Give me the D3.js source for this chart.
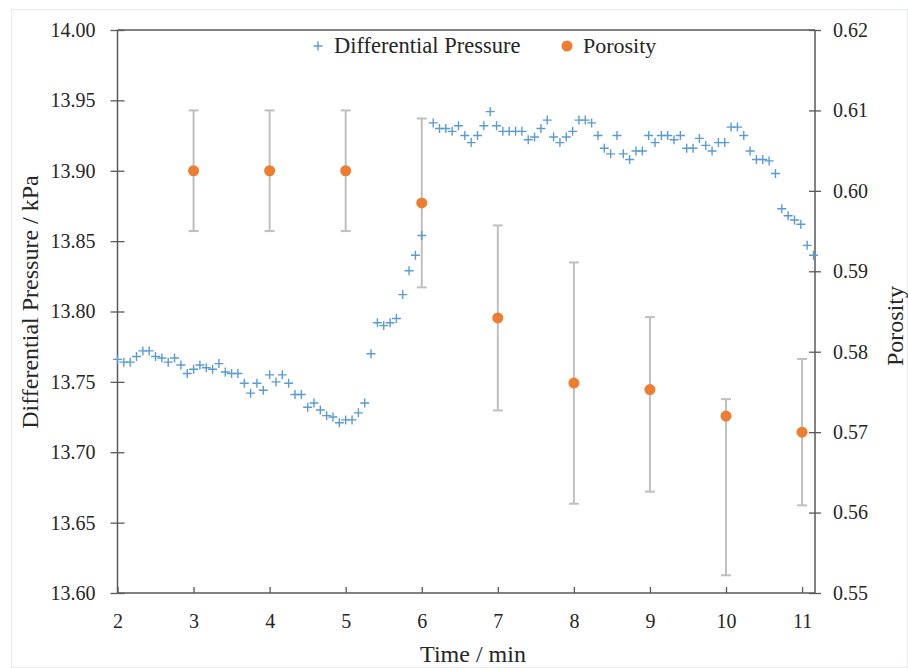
<!doctype html>
<html>
  <head>
    <meta charset="utf-8"/>
    <style>
      body { margin: 0; background: #fff; }
      text { font-family: 'Liberation Serif', 'DejaVu Serif', serif; fill: #262626; }
    </style>
  </head>
  <body>
    <script src="https://cdn.jsdelivr.net/npm/d3@7/dist/d3.min.js"></script>
    <script>

      // differential pressure, sampled every 5 s (time in seconds)
      const pressureTime = [
        120, 125, 130, 135, 140, 145, 150, 155, 160, 165,
        170, 175, 180, 185, 190, 195, 200, 205, 210, 215,
        220, 225, 230, 235, 240, 245, 250, 255, 260, 265,
        270, 275, 280, 285, 290, 295, 300, 305, 310, 315,
        320, 325, 330, 335, 340, 345, 350, 355, 360,
        369, 374, 379, 384, 389, 394, 399, 404, 409, 414,
        419, 424, 429, 434, 439, 444, 449, 454, 459, 464,
        469, 474, 479, 484, 489, 494, 499, 504, 509, 514,
        519, 524, 529, 534, 539, 544, 549, 554, 559, 564,
        569, 574, 579, 584, 589, 594, 599, 604, 609, 614,
        619, 624, 629, 634, 639, 644, 649, 654, 659, 664,
        669
      ];
      const pressure = [
        13.766, 13.764, 13.764, 13.768, 13.772, 13.772, 13.768, 13.767, 13.764, 13.767,
        13.762, 13.756, 13.759, 13.762, 13.760, 13.759, 13.763, 13.757, 13.756, 13.756,
        13.749, 13.742, 13.749, 13.744, 13.755, 13.750, 13.755, 13.749, 13.741, 13.741,
        13.732, 13.735, 13.730, 13.726, 13.725, 13.721, 13.723, 13.723, 13.728, 13.735,
        13.770, 13.792, 13.790, 13.792, 13.795, 13.812, 13.829, 13.840, 13.854,
        13.934, 13.930, 13.930, 13.928, 13.932, 13.925, 13.920, 13.925, 13.932, 13.942,
        13.932, 13.928, 13.928, 13.928, 13.928, 13.922, 13.924, 13.930, 13.936, 13.924,
        13.920, 13.924, 13.928, 13.936, 13.936, 13.934, 13.925, 13.916, 13.912, 13.925,
        13.912, 13.908, 13.914, 13.914, 13.925, 13.920, 13.925, 13.925, 13.922, 13.925,
        13.916, 13.916, 13.923, 13.918, 13.914, 13.920, 13.920, 13.931, 13.931, 13.925,
        13.914, 13.908, 13.908, 13.907, 13.898, 13.873, 13.868, 13.865, 13.862, 13.847,
        13.840
      ];

      // porosity with error bars (time in minutes)
      const porosityTime = [3, 4, 5, 6, 7, 8, 9, 10, 11];
      const porosity = [0.6025, 0.6025, 0.6025, 0.5985, 0.5842, 0.5761, 0.5753, 0.5720, 0.5700];
      const porosityErrPlus = [0.0075, 0.0075, 0.0075, 0.0105, 0.0115, 0.0150, 0.0090, 0.0021, 0.0091];
      const porosityErrMinus = [0.0075, 0.0075, 0.0075, 0.0105, 0.0115, 0.0150, 0.0127, 0.0198, 0.0091];

      const xTicks = [2, 3, 4, 5, 6, 7, 8, 9, 10, 11];
      const yLeftTicks = [13.60, 13.65, 13.70, 13.75, 13.80, 13.85, 13.90, 13.95, 14.00];
      const yRightTicks = [0.55, 0.56, 0.57, 0.58, 0.59, 0.60, 0.61, 0.62];

      const blue = '#5b9bd5';
      const orange = '#ed7d31';
      const axisColor = '#595959';

      const width = 908, height = 668;
      const plot = { left: 117.5, right: 815, top: 30, bottom: 593 };

      const svg = d3.select('body').append('svg')
            .attr('width', width)
            .attr('height', height);

      svg.append('rect')
        .attr('x', 11.5).attr('y', 9.5)
        .attr('width', width - 12).attr('height', height - 10)
        .attr('fill', '#fff')
        .attr('stroke', '#e4eaf0');

      const x = d3.scaleLinear().domain([2, 11.17]).range([plot.left, plot.right]);
      const yL = d3.scaleLinear().domain([13.6, 14.0]).range([plot.bottom, plot.top]);
      const yR = d3.scaleLinear().domain([0.55, 0.62]).range([plot.bottom, plot.top]);

      // frame
      svg.append('line')
        .attr('x1', plot.left).attr('x2', plot.right)
        .attr('y1', plot.top).attr('y2', plot.top)
        .attr('stroke', axisColor).attr('stroke-width', 1.5);

      const xAxis = svg.append('g')
            .attr('transform', `translate(0,${plot.bottom})`)
            .call(d3.axisBottom(x).tickValues(xTicks).tickSize(-6).tickPadding(21).tickFormat(d3.format('d')));

      const yAxisL = svg.append('g')
            .attr('transform', `translate(${plot.left},0)`)
            .call(d3.axisLeft(yL).tickValues(yLeftTicks).tickSize(7).tickPadding(15).tickFormat(d3.format('.2f')));

      const yAxisR = svg.append('g')
            .attr('transform', `translate(${plot.right},0)`)
            .call(d3.axisRight(yR).tickValues(yRightTicks).tickSize(6).tickPadding(12).tickFormat(d3.format('.2f')));

      [xAxis, yAxisL, yAxisR].forEach(a => {
        a.attr('font-family', null).attr('font-size', null);
        a.select('.domain').attr('stroke', axisColor).attr('stroke-width', 1.5);
        a.selectAll('.tick line').attr('stroke', axisColor).attr('stroke-width', 1.3);
        a.selectAll('.tick text')
          .style('font-size', '20px')
          .attr('fill', '#262626');
      });
      xAxis.select('.domain').attr('d', `M${plot.left},0H${plot.right}`);
      // ticks cross the vertical axes
      yAxisL.selectAll('.tick line').attr('x1', 7);
      yAxisR.selectAll('.tick line').attr('x1', -6);
      yAxisL.select('.domain').attr('d', `M0,${plot.top}V${plot.bottom}`);
      yAxisR.select('.domain').attr('d', `M0,${plot.top}V${plot.bottom}`);

      // axis titles
      svg.append('text')
        .attr('x', 473).attr('y', 662)
        .attr('text-anchor', 'middle')
        .style('font-size', '24px')
        .text('Time / min');

      svg.append('text')
        .attr('transform', `translate(38,302) rotate(-90)`)
        .attr('text-anchor', 'middle')
        .style('font-size', '24px')
        .text('Differential Pressure / kPa');

      svg.append('text')
        .attr('transform', `translate(903,326) rotate(-90)`)
        .attr('text-anchor', 'middle')
        .style('font-size', '24px')
        .text('Porosity');

      // error bars
      const porData = porosityTime.map((t, i) => ({
        t, v: porosity[i], hi: porosity[i] + porosityErrPlus[i], lo: porosity[i] - porosityErrMinus[i]
      }));
      const bars = svg.append('g')
            .attr('stroke', '#bfbfbf')
            .attr('stroke-width', 2)
            .selectAll('g')
            .data(porData)
            .join('g');
      bars.append('line')
        .attr('x1', d => x(d.t)).attr('x2', d => x(d.t))
        .attr('y1', d => yR(d.hi)).attr('y2', d => yR(d.lo));
      bars.append('line')
        .attr('x1', d => x(d.t) - 5).attr('x2', d => x(d.t) + 5)
        .attr('y1', d => yR(d.hi)).attr('y2', d => yR(d.hi));
      bars.append('line')
        .attr('x1', d => x(d.t) - 5).attr('x2', d => x(d.t) + 5)
        .attr('y1', d => yR(d.lo)).attr('y2', d => yR(d.lo));

      // pressure markers
      const presData = pressureTime.map((s, i) => ({ t: s / 60, v: pressure[i] }));
      svg.append('g')
        .selectAll('path')
        .data(presData)
        .join('path')
        .attr('transform', d => `translate(${x(d.t)},${yL(d.v)})`)
        .attr('d', 'M-4.5,0H4.5M0,-4.5V4.5')
        .attr('stroke', blue)
        .attr('stroke-width', 1.4)
        .attr('fill', 'none');

      // porosity markers
      svg.append('g')
        .selectAll('circle')
        .data(porData)
        .join('circle')
        .attr('cx', d => x(d.t))
        .attr('cy', d => yR(d.v))
        .attr('r', 5.5)
        .attr('fill', orange);

      // legend
      const legend = svg.append('g');
      legend.append('path')
        .attr('d', 'M313.5,46H322.5M318,41.5V50.5')
        .attr('stroke', blue).attr('stroke-width', 1.4);
      legend.append('text')
        .attr('x', 334).attr('y', 53)
        .style('font-size', '22.5px')
        .text('Differential Pressure');
      legend.append('circle')
        .attr('cx', 567).attr('cy', 46).attr('r', 5.5)
        .attr('fill', orange);
      legend.append('text')
        .attr('x', 583).attr('y', 53)
        .style('font-size', '22px')
        .text('Porosity');

    </script>
  </body>
</html>
